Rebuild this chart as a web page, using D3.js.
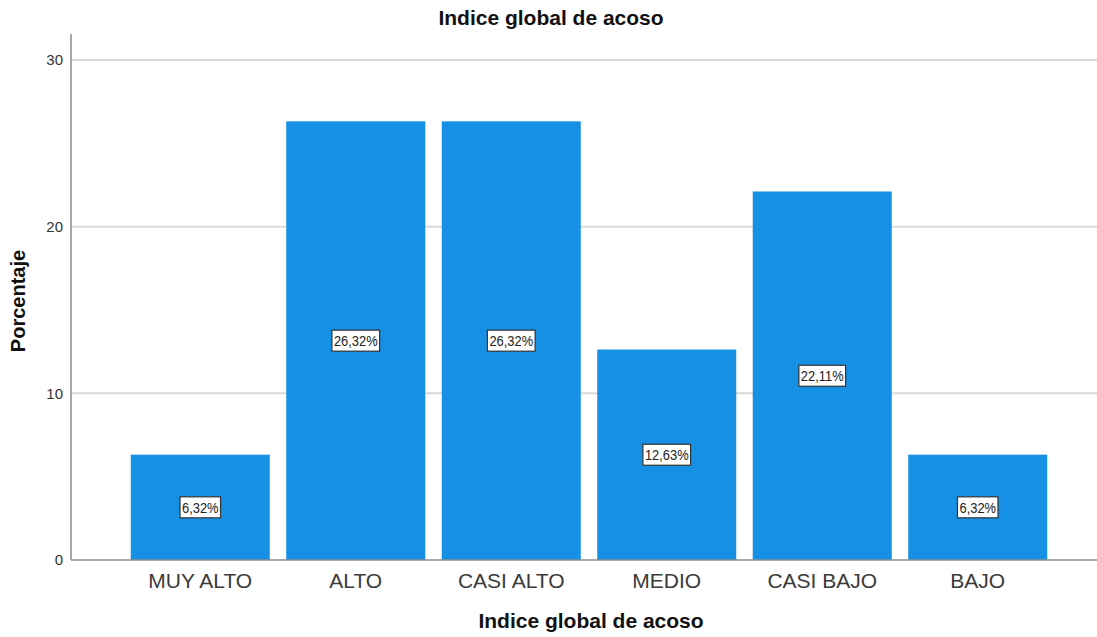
<!DOCTYPE html>
<html>
<head>
<meta charset="utf-8">
<script src="https://cdn.jsdelivr.net/npm/d3@7"></script>
<style>
  body { margin: 0; background: #fff; }
  text { font-family: "Liberation Sans", Arial, sans-serif; }
</style>
</head>
<body>
<svg id="chart"></svg>
<script>
// data
const categories = ["MUY ALTO", "ALTO", "CASI ALTO", "MEDIO", "CASI BAJO", "BAJO"];
const percents = [6.32, 26.32, 26.32, 12.63, 22.11, 6.32];
const yTicks = [0, 10, 20, 30];

const width = 1097, height = 637;
const plotLeft = 71, plotRight = 1097, plotTop = 34, plotBottom = 560;

const svg = d3.select('#chart')
    .attr('width', width)
    .attr('height', height);

const x = d3.scaleBand()
    .domain(categories)
    .range([81, plotRight])
    .paddingInner(0.106)
    .paddingOuter(0.32);

const y = d3.scaleLinear()
    .domain([0, 31.56])
    .range([plotBottom, plotTop]);

// gridlines
svg.append("g")
    .selectAll("line")
    .data(yTicks.filter(d => d > 0))
    .join("line")
    .attr("x1", plotLeft).attr("x2", plotRight)
    .attr("y1", d => y(d)).attr("y2", d => y(d))
    .attr("stroke", "#d9d9d9")
    .attr("stroke-width", 2);

// bars
svg.append("g")
    .selectAll("rect")
    .data(percents)
    .join("rect")
    .attr("x", (d, i) => x(categories[i]))
    .attr("y", d => y(d))
    .attr("width", x.bandwidth())
    .attr("height", d => plotBottom - y(d))
    .attr("fill", "#1590e4");

// axes lines
svg.append("line")
    .attr("x1", plotLeft).attr("x2", plotLeft)
    .attr("y1", plotTop).attr("y2", plotBottom)
    .attr("stroke", "#8c8c8c").attr("stroke-width", 1.5);
svg.append("line")
    .attr("x1", plotLeft).attr("x2", plotRight)
    .attr("y1", plotBottom).attr("y2", plotBottom)
    .attr("stroke", "#8c8c8c").attr("stroke-width", 1.5);

// y tick labels
svg.append("g")
    .selectAll("text")
    .data(yTicks)
    .join("text")
    .attr("x", plotLeft - 8)
    .attr("y", d => y(d))
    .attr("dy", "0.35em")
    .attr("text-anchor", "end")
    .style("font-size", "15px")
    .style("fill", "#333")
    .text(d => d);

// x tick labels
svg.append("g")
    .selectAll("text")
    .data(categories)
    .join("text")
    .attr("x", d => x(d) + x.bandwidth() / 2)
    .attr("y", plotBottom + 28)
    .attr("text-anchor", "middle")
    .style("font-size", "21px")
    .style("fill", "#3a3a3a")
    .text(d => d);

// value labels in a white box
const fmt = v => v.toFixed(2).replace(".", ",") + "%";
const sx = 0.86;
const lab = svg.append("g")
    .selectAll("g")
    .data(percents)
    .join("g")
    .attr("transform", (d, i) => `translate(${x(categories[i]) + x.bandwidth() / 2},${y(d / 2)})`);

lab.append("text")
    .attr("text-anchor", "middle")
    .attr("dy", "0.36em")
    .attr("transform", `scale(${sx},1)`)
    .style("font-size", "15px")
    .style("fill", "#222")
    .text(d => fmt(d))
    .each(function() {
        const b = this.getBBox();
        const w = b.width * sx;
        d3.select(this.parentNode).insert("rect", "text")
            .attr("x", -w / 2 - 2)
            .attr("y", -10.5)
            .attr("width", w + 4)
            .attr("height", 21)
            .attr("fill", "#fff")
            .attr("stroke", "#333")
            .attr("stroke-width", 1.2);
    });

// titles
svg.append("text")
    .attr("x", 551).attr("y", 25)
    .attr("text-anchor", "middle")
    .style("font-size", "21px")
    .style("font-weight", "bold")
    .style("fill", "#111")
    .text("Indice global de acoso");

svg.append("text")
    .attr("x", 591).attr("y", 628)
    .attr("text-anchor", "middle")
    .style("font-size", "21px")
    .style("font-weight", "bold")
    .style("fill", "#111")
    .text("Indice global de acoso");

svg.append("text")
    .attr("transform", "translate(25,301) rotate(-90)")
    .attr("text-anchor", "middle")
    .style("font-size", "20px")
    .style("font-weight", "bold")
    .style("fill", "#111")
    .text("Porcentaje");
</script>
</body>
</html>
